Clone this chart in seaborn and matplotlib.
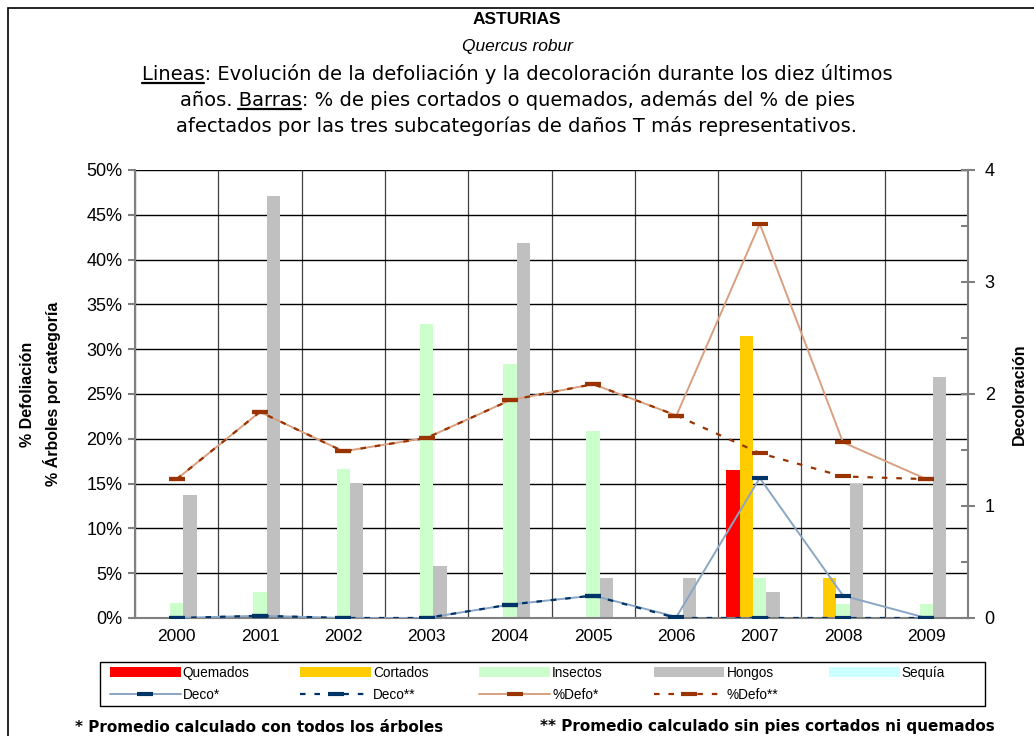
import numpy as np
import pandas as pd
import seaborn as sns
import matplotlib.pyplot as plt
from matplotlib.patches import Patch, Rectangle
from matplotlib.lines import Line2D
from matplotlib.ticker import PercentFormatter, MultipleLocator

years = ['2000', '2001', '2002', '2003', '2004', '2005', '2006', '2007', '2008', '2009']

# % of trees per category (bars, left axis)
quemados = [0, 0, 0, 0, 0, 0, 0, 16.5, 0, 0]
cortados = [0, 0, 0, 0, 0, 0, 0, 31.5, 4.5, 0]
insectos = [1.7, 2.9, 16.6, 32.8, 28.3, 20.9, 0, 4.5, 1.6, 1.6]
hongos = [13.7, 47.1, 15.1, 5.8, 41.9, 4.5, 4.5, 2.9, 15.0, 26.9]
sequia = [0, 0, 0, 0, 0, 0, 0, 0, 0, 0]

# decoloracion (right axis)
deco_todos = [0, 0.02, 0, 0, 0.12, 0.2, 0.01, 1.25, 0.2, 0]
deco_sin = [0, 0.02, 0, 0, 0.12, 0.2, 0, 0, 0, 0]

# % defoliacion (left axis)
defo_todos = [15.5, 23.0, 18.6, 20.1, 24.3, 26.1, 22.6, 44.0, 19.6, 15.5]
defo_sin = [15.5, 23.0, 18.6, 20.1, 24.3, 26.1, 22.6, 18.4, 15.8, 15.5]

bar_names = ['Quemados', 'Cortados', 'Insectos', 'Hongos', 'Sequía']
bar_colors = ['#FF0000', '#FFCC00', '#CCFFCC', '#C0C0C0', '#CCFFFF']
line_names = ['Deco*', 'Deco**', '%Defo*', '%Defo**']

sns.set_style('white')
plt.rcParams['font.family'] = ['Liberation Sans', 'DejaVu Sans']
for k in ['text.color', 'axes.labelcolor', 'xtick.color', 'ytick.color']:
    plt.rcParams[k] = 'black'

df = pd.DataFrame({'year': years, 'Quemados': quemados, 'Cortados': cortados,
                   'Insectos': insectos, 'Hongos': hongos, 'Sequía': sequia})
long = df.melt(id_vars='year', var_name='cat', value_name='val')

fig = plt.figure(figsize=(10.34, 7.36), dpi=100)
ax = fig.add_axes([135 / 1034, 118 / 736, 833 / 1034, 448 / 736])

sns.barplot(data=long, x='year', y='val', hue='cat', hue_order=bar_names,
            palette=bar_colors, saturation=1, width=0.8, ax=ax, legend=False,
            edgecolor='none', linewidth=0, zorder=2)

x = np.arange(len(years))
defo_light = '#D8A080'
brown = '#993300'
navy = '#003366'
deco_light = '#8AA6C4'
dash = (0, (2.5, 4))

sns.lineplot(x=x, y=defo_todos, ax=ax, color=defo_light, lw=1.4, marker='_',
             ms=12, mew=3, mec=brown, zorder=4)
sns.lineplot(x=x, y=defo_sin, ax=ax, color=brown, lw=1.6, linestyle=dash,
             marker='_', ms=12, mew=3, mec=brown, zorder=4)

ax.set_xlim(-0.5, 9.5)
ax.set_ylim(0, 50)
ax.yaxis.set_major_locator(MultipleLocator(5))
ax.yaxis.set_major_formatter(PercentFormatter(decimals=0))
ax.set_xticks(np.arange(-0.5, 10, 1), minor=True)
ax.set_axisbelow(True)
ax.yaxis.grid(True, color='black', lw=1)
ax.xaxis.grid(True, which='minor', color='#404040', lw=0.9)
ax.tick_params(axis='x', which='major', length=0, labelsize=12.5, pad=8)
ax.tick_params(axis='x', which='minor', length=5, color='#808080', width=1.5)
ax.tick_params(axis='y', length=5, color='#808080', labelcolor='black', width=1.5,
               labelsize=13, pad=4)
ax.set_xlabel('')
ax.set_ylabel('% Defoliación\n% Árboles por categoría', fontsize=11.5, fontweight='bold',
              labelpad=18, linespacing=1.55)
for s in ['top', 'right']:
    ax.spines[s].set_visible(False)
for s in ['left', 'bottom']:
    ax.spines[s].set_color('#808080')
    ax.spines[s].set_linewidth(1.5)

ax2 = ax.twinx()
sns.lineplot(x=x, y=deco_todos, ax=ax2, color=deco_light, lw=1.4, marker='_',
             ms=12, mew=3, mec=navy, zorder=4)
sns.lineplot(x=x, y=deco_sin, ax=ax2, color=navy, lw=1.6, linestyle=dash,
             marker='_', ms=12, mew=3, mec=navy, zorder=4)
ax2.set_ylim(0, 4)
ax2.set_xlim(-0.5, 9.5)
ax2.yaxis.set_major_locator(MultipleLocator(1))
ax2.yaxis.set_minor_locator(MultipleLocator(0.5))
ax2.tick_params(axis='y', which='major', direction='inout', length=10, color='#808080',
                labelcolor='black', width=1.5, labelsize=13, pad=7)
ax2.tick_params(axis='y', which='minor', direction='in', length=5, color='#808080', width=1.5)
ax2.set_ylabel('Decoloración', fontsize=11.5, fontweight='bold', labelpad=12)
for s in ['top', 'left', 'bottom']:
    ax2.spines[s].set_visible(False)
ax2.spines['right'].set_color('#808080')
ax2.spines['right'].set_linewidth(1.5)

# legend (matplotlib fills column by column)
h_bars = [Patch(facecolor=c, edgecolor='none') for c in bar_colors]
h_lines = [
    Line2D([], [], color=deco_light, lw=1.4, marker='_', ms=12, mew=3, mec=navy),
    Line2D([], [], color=navy, lw=1.6, linestyle=dash, marker='_', ms=12, mew=3, mec=navy),
    Line2D([], [], color=defo_light, lw=1.4, marker='_', ms=12, mew=3, mec=brown),
    Line2D([], [], color=brown, lw=1.6, linestyle=dash, marker='_', ms=12, mew=3, mec=brown),
]
handles, labels = [], []
for i in range(5):
    handles.append(h_bars[i]); labels.append(bar_names[i])
    if i < 4:
        handles.append(h_lines[i]); labels.append(line_names[i])
fig.legend(handles, labels, ncol=5, loc='center',
           bbox_to_anchor=(110 / 1034, 40 / 736, 835 / 1034, 24 / 736), mode='expand',
           fontsize=9.8, handlelength=5.2, handletextpad=0.15, frameon=False,
           borderpad=0, labelspacing=0.6, borderaxespad=0)
fig.add_artist(Rectangle((100 / 1034, 30 / 736), 885 / 1034, 44 / 736, transform=fig.transFigure,
                         fill=False, edgecolor='black', lw=1))

# titles
fig.text(0.5, 1 - 20 / 736, 'ASTURIAS', ha='center', va='center', fontsize=12.5, fontweight='bold')
fig.text(0.5, 1 - 47 / 736, 'Quercus robur', ha='center', va='center', fontsize=12.5, style='italic')
tfs = 14
tfam = ['DejaVu Sans']
l1 = 'Lineas: Evolución de la defoliación y la decoloración durante los diez últimos'
l2 = 'años. Barras: % de pies cortados o quemados, además del % de pies'
l3 = 'afectados por las tres subcategorías de daños T más representativos.'
t1 = fig.text(0.5, 1 - 74 / 736, l1, ha='center', va='center', fontsize=tfs, family=tfam)
t2 = fig.text(0.5, 1 - 100 / 736, l2, ha='center', va='center', fontsize=tfs, family=tfam)
fig.text(0.5, 1 - 126 / 736, l3, ha='center', va='center', fontsize=tfs, family=tfam)

fig.canvas.draw()
rend = fig.canvas.get_renderer()


def text_w(s):
    tmp = fig.text(0, 0, s, fontsize=tfs, family=tfam)
    w = tmp.get_window_extent(rend).width
    tmp.remove()
    return w


def underline(tobj, prefix, word):
    bb = tobj.get_window_extent(rend)
    x0 = bb.x0 + text_w(prefix + word) - text_w(word)
    x1 = bb.x0 + text_w(prefix + word)
    yv = bb.y0 + 1
    fig.add_artist(Line2D([x0 / fig.bbox.width, x1 / fig.bbox.width],
                          [yv / fig.bbox.height] * 2, color='black', lw=1.6))


underline(t1, '', 'Lineas')
underline(t2, 'años. ', 'Barras')

# footer notes
fig.text(75 / 1034, 1 - 727 / 736, '* Promedio calculado con todos los árboles',
         ha='left', va='center', fontsize=11, fontweight='bold', family=['DejaVu Sans'])
fig.text(540 / 1034, 1 - 727 / 736, '** Promedio calculado sin pies cortados ni quemados',
         ha='left', va='center', fontsize=11, fontweight='bold', family=['DejaVu Sans'])

# outer frame
fig.add_artist(Rectangle((8 / 1034, -0.01), 1.0, 1 - 8 / 736 + 0.01, transform=fig.transFigure,
                         fill=False, edgecolor='black', lw=1.2))

fig.savefig('out.png', dpi=100)
